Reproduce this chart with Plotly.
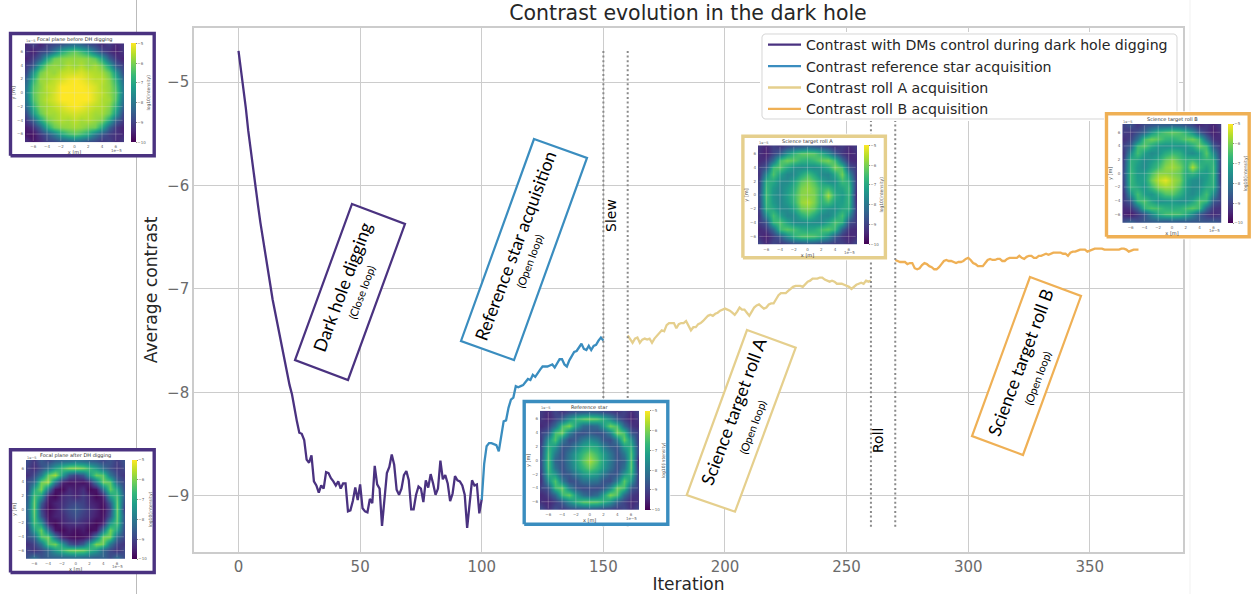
import plotly.graph_objects as go

W, H = 1252, 594

# ---------- series ----------
iter_dig = list(range(0, 101))
contrast_dig = [-4.70,-4.87,-5.05,-5.25,-5.47,-5.66,-5.84,-6.01,-6.19,-6.36,-6.52,-6.68,-6.82,-6.95,-7.10,-7.22,-7.36,-7.48,-7.60,-7.72,
 -7.82,-7.93,-8.02,-8.17,-8.28,-8.39,-8.40,-8.46,-8.65,-8.68,-8.61,-8.86,-8.90,-8.97,-8.90,-8.93,-8.77,-8.78,-8.83,-8.86,
 -8.90,-8.86,-8.93,-8.88,-8.88,-9.15,-9.14,-9.05,-8.92,-9.04,-8.89,-9.12,-9.15,-9.16,-9.03,-9.07,-8.71,-8.89,-8.93,-9.29,
 -9.01,-8.78,-8.72,-8.60,-8.70,-8.94,-8.99,-8.93,-8.80,-8.76,-8.85,-9.13,-9.13,-8.99,-8.91,-8.93,-9.06,-8.85,-8.92,-8.79,
 -8.88,-8.99,-8.93,-8.66,-8.84,-8.80,-8.88,-9.05,-8.98,-8.81,-8.85,-8.86,-8.90,-8.99,-9.31,-9.11,-8.85,-8.90,-8.89,-9.17,-9.03]
iter_ref = list(range(100, 151))
contrast_ref = [-9.04,-8.69,-8.52,-8.49,-8.49,-8.50,-8.51,-8.57,-8.41,-8.28,-8.27,-8.15,-8.07,-8.05,-7.94,-7.95,-7.94,-7.93,-7.90,-7.87,
 -7.88,-7.83,-7.85,-7.81,-7.78,-7.75,-7.75,-7.75,-7.74,-7.73,-7.76,-7.72,-7.68,-7.68,-7.73,-7.75,-7.69,-7.65,-7.61,-7.60,
 -7.57,-7.53,-7.58,-7.59,-7.55,-7.59,-7.55,-7.54,-7.50,-7.47,-7.50]
iter_a = list(range(160, 261))
contrast_a = [-7.45,-7.48,-7.52,-7.48,-7.47,-7.52,-7.49,-7.48,-7.49,-7.48,-7.52,-7.48,-7.45,-7.42,-7.40,-7.41,-7.35,-7.33,-7.33,-7.33,
 -7.38,-7.34,-7.33,-7.33,-7.31,-7.35,-7.40,-7.37,-7.37,-7.34,-7.33,-7.31,-7.28,-7.26,-7.25,-7.26,-7.24,-7.23,-7.21,-7.20,
 -7.19,-7.20,-7.21,-7.23,-7.25,-7.22,-7.18,-7.20,-7.20,-7.23,-7.26,-7.22,-7.18,-7.16,-7.15,-7.17,-7.19,-7.18,-7.15,-7.14,
 -7.14,-7.10,-7.06,-7.04,-7.04,-7.04,-7.02,-7.00,-6.98,-6.97,-6.97,-6.97,-6.98,-6.95,-6.93,-6.92,-6.90,-6.90,-6.90,-6.89,
 -6.89,-6.91,-6.92,-6.93,-6.92,-6.93,-6.95,-6.95,-6.95,-6.96,-6.97,-6.98,-7.00,-6.98,-6.96,-6.95,-6.94,-6.95,-6.92,-6.93,-6.92]
iter_b = list(range(270, 371))
contrast_b = [-6.72,-6.73,-6.74,-6.74,-6.74,-6.76,-6.75,-6.75,-6.80,-6.81,-6.80,-6.77,-6.75,-6.76,-6.78,-6.79,-6.81,-6.81,-6.79,-6.76,
 -6.73,-6.72,-6.73,-6.73,-6.74,-6.75,-6.74,-6.74,-6.73,-6.71,-6.70,-6.72,-6.75,-6.76,-6.78,-6.78,-6.78,-6.75,-6.72,-6.71,
 -6.72,-6.72,-6.71,-6.71,-6.73,-6.73,-6.71,-6.70,-6.70,-6.70,-6.70,-6.68,-6.70,-6.71,-6.69,-6.68,-6.68,-6.70,-6.70,-6.68,
 -6.68,-6.67,-6.66,-6.67,-6.66,-6.65,-6.65,-6.65,-6.65,-6.66,-6.66,-6.68,-6.65,-6.64,-6.64,-6.63,-6.62,-6.62,-6.62,-6.64,
 -6.63,-6.62,-6.61,-6.61,-6.61,-6.61,-6.62,-6.62,-6.62,-6.62,-6.62,-6.62,-6.62,-6.61,-6.61,-6.62,-6.64,-6.63,-6.62,-6.62,-6.62]
series_names = ["Contrast with DMs control during dark hole digging", "Contrast reference star acquisition",
                "Contrast roll A acquisition", "Contrast roll B acquisition"]
C_DIG, C_REF, C_A, C_B = "#4a3280", "#3a8dbf", "#e5cf8d", "#efb055"

sep_iters = [150, 160, 260, 270]
sep_top, sep_bottom = -4.70, -9.30
x_ticks = [0, 50, 100, 150, 200, 250, 300, 350]
y_ticks = [-5, -6, -7, -8, -9]

# ---------- inset image samples, log10(intensity), rows y=+7..-7, columns x=-7..+7 ----------
axis_cells = [-7,-6,-5,-4,-3,-2,-1,0,1,2,3,4,5,6,7]
inset_ticks = [-6,-4,-2,0,2,4,6]
cbar_ticks = [-5,-6,-7,-8,-9,-10]

img_before = [
[-9.4,-9.0,-9.5,-9.1,-8.9,-8.7,-8.4,-8.2,-8.4,-8.8,-9.0,-9.4,-9.1,-9.5,-9.2],
[-9.2,-9.6,-9.0,-8.8,-8.0,-7.0,-6.5,-6.2,-6.6,-7.1,-8.1,-8.9,-9.3,-9.6,-9.2],
[-9.5,-9.1,-8.4,-7.0,-6.1,-5.9,-5.8,-5.8,-5.8,-5.9,-6.2,-7.1,-8.5,-9.2,-9.5],
[-9.1,-8.6,-7.0,-6.0,-5.8,-5.9,-5.6,-5.8,-5.6,-5.9,-5.7,-6.1,-7.1,-8.6,-9.0],
[-8.9,-7.4,-6.1,-5.7,-5.8,-5.5,-5.4,-5.4,-5.3,-5.5,-5.6,-5.7,-6.2,-7.4,-8.8],
[-8.4,-6.8,-5.8,-5.7,-5.5,-5.3,-5.1,-5.0,-5.1,-5.3,-5.5,-5.5,-5.9,-6.8,-8.3],
[-8.1,-6.4,-5.9,-5.5,-5.4,-5.0,-5.0,-5.0,-5.0,-5.1,-5.3,-5.6,-5.8,-6.5,-8.0],
[-7.9,-6.3,-5.8,-5.6,-5.3,-5.0,-5.0,-5.0,-5.0,-5.0,-5.3,-5.5,-5.8,-6.3,-7.9],
[-8.0,-6.4,-5.8,-5.5,-5.3,-5.0,-5.0,-5.0,-5.0,-5.0,-5.3,-5.6,-5.7,-6.4,-8.1],
[-8.3,-6.8,-5.9,-5.7,-5.5,-5.3,-5.1,-5.0,-5.1,-5.3,-5.5,-5.6,-5.9,-6.8,-8.4],
[-8.8,-7.3,-6.2,-5.7,-5.7,-5.5,-5.4,-5.3,-5.4,-5.5,-5.7,-5.7,-6.1,-7.3,-8.9],
[-9.2,-8.5,-7.1,-6.1,-5.8,-5.6,-5.7,-5.5,-5.7,-5.6,-5.8,-6.0,-7.0,-8.5,-9.1],
[-9.6,-9.3,-8.4,-7.0,-6.2,-5.9,-5.8,-5.7,-5.8,-6.0,-6.1,-7.0,-8.4,-9.2,-9.5],
[-9.7,-9.8,-9.2,-8.7,-8.0,-7.1,-6.6,-6.3,-6.6,-7.0,-8.0,-8.7,-9.1,-9.3,-9.4],
[-9.3,-9.7,-9.4,-9.0,-8.9,-8.6,-8.4,-8.2,-8.4,-8.7,-8.9,-9.2,-9.0,-9.4,-9.1]]

img_after = [
[-8.8,-9.2,-8.6,-8.9,-8.5,-8.3,-8.2,-8.0,-8.2,-8.4,-8.6,-8.9,-8.7,-9.1,-8.7],
[-9.0,-9.4,-8.8,-8.2,-7.2,-6.5,-6.0,-5.9,-6.1,-6.6,-7.3,-8.2,-8.8,-9.2,-8.9],
[-9.3,-8.9,-7.9,-6.2,-5.7,-7.2,-8.6,-9.0,-8.6,-7.3,-6.2,-6.3,-8.0,-8.9,-9.2],
[-8.8,-8.3,-6.1,-5.7,-8.0,-9.5,-9.8,-9.7,-9.8,-9.5,-8.0,-6.1,-6.3,-8.4,-8.9],
[-8.9,-7.0,-6.0,-8.0,-9.7,-9.9,-9.4,-9.6,-9.3,-9.9,-9.7,-8.1,-6.2,-7.1,-8.8],
[-8.6,-6.4,-7.3,-9.6,-9.9,-9.4,-9.2,-9.5,-9.1,-9.5,-9.9,-9.6,-7.3,-6.5,-8.5],
[-8.4,-6.2,-8.5,-9.8,-9.5,-9.3,-9.0,-8.9,-9.0,-9.4,-9.6,-9.8,-8.5,-6.3,-8.8],
[-8.3,-6.2,-8.9,-9.9,-9.6,-9.2,-8.8,-8.6,-8.9,-9.2,-9.5,-9.9,-8.9,-6.2,-9.0],
[-8.4,-6.3,-8.6,-9.8,-9.5,-9.4,-9.0,-8.8,-9.1,-9.3,-9.6,-9.8,-8.6,-6.3,-8.6],
[-8.6,-6.5,-7.4,-9.6,-9.9,-9.5,-9.3,-9.2,-9.4,-9.6,-9.9,-9.6,-7.4,-6.4,-8.7],
[-8.9,-7.2,-6.2,-8.1,-9.7,-9.9,-9.6,-9.8,-9.6,-9.9,-9.7,-8.0,-6.1,-7.1,-8.8],
[-8.8,-8.4,-6.4,-6.1,-8.1,-9.5,-9.8,-9.9,-9.8,-9.5,-8.0,-6.0,-6.1,-8.3,-8.9],
[-9.3,-9.0,-8.1,-6.4,-6.1,-7.3,-8.6,-9.0,-8.5,-7.2,-6.0,-6.1,-8.0,-9.0,-9.2],
[-9.0,-9.3,-8.9,-8.3,-7.3,-6.6,-6.1,-6.0,-6.1,-6.6,-7.2,-8.3,-8.9,-9.3,-8.9],
[-8.7,-8.2,-8.7,-8.5,-8.4,-8.3,-8.2,-8.1,-8.2,-8.3,-8.5,-8.4,-8.8,-8.3,-8.8]]

img_ref = [
[-9.1,-9.4,-8.9,-9.2,-8.9,-8.7,-8.6,-8.5,-8.6,-8.8,-9.0,-9.2,-9.0,-9.4,-9.0],
[-9.2,-9.5,-9.0,-8.5,-7.5,-6.7,-6.3,-6.1,-6.3,-6.8,-7.6,-8.6,-9.1,-9.5,-9.2],
[-9.4,-9.1,-8.2,-6.5,-6.0,-7.2,-8.2,-8.4,-8.2,-7.3,-6.1,-6.5,-8.3,-9.2,-9.4],
[-9.0,-8.6,-6.5,-6.1,-7.8,-8.7,-8.8,-8.6,-8.8,-8.7,-7.8,-6.0,-6.5,-8.6,-9.0],
[-9.1,-7.4,-6.4,-7.9,-8.8,-8.6,-7.9,-7.5,-7.9,-8.6,-8.8,-7.9,-6.2,-7.4,-9.1],
[-8.9,-6.8,-7.4,-8.7,-8.5,-7.8,-7.1,-6.8,-7.0,-7.8,-8.5,-8.7,-7.3,-6.8,-8.9],
[-8.8,-6.5,-8.0,-8.8,-8.0,-7.2,-6.6,-6.1,-6.6,-7.2,-8.0,-8.8,-8.0,-6.5,-8.9],
[-8.7,-6.4,-8.4,-8.7,-7.9,-7.1,-6.3,-5.7,-6.3,-7.1,-7.9,-8.7,-8.4,-6.4,-9.4],
[-8.8,-6.5,-8.1,-8.8,-8.1,-7.3,-6.7,-6.2,-6.7,-7.3,-8.1,-8.8,-8.1,-6.4,-9.2],
[-9.0,-6.8,-7.4,-8.7,-8.6,-7.9,-7.3,-7.0,-7.3,-7.9,-8.6,-8.7,-7.4,-6.7,-9.0],
[-9.2,-7.5,-6.4,-7.9,-8.8,-8.7,-8.1,-8.0,-8.1,-8.7,-8.8,-7.9,-6.3,-7.4,-9.1],
[-9.0,-8.7,-6.6,-6.2,-7.8,-8.7,-8.9,-8.8,-8.9,-8.7,-7.7,-6.1,-6.5,-8.6,-9.0],
[-9.4,-9.1,-8.3,-6.6,-6.2,-7.3,-8.2,-8.5,-8.2,-7.2,-6.0,-6.4,-8.2,-9.1,-9.3],
[-9.3,-9.5,-9.1,-8.6,-7.6,-6.8,-6.3,-6.2,-6.3,-6.7,-7.4,-8.5,-9.0,-9.4,-9.2],
[-8.8,-9.3,-8.8,-9.1,-8.8,-8.7,-8.6,-8.5,-8.6,-8.8,-8.9,-9.1,-8.9,-9.3,-8.9]]

img_a = [
[-9.2,-9.5,-9.0,-9.2,-8.9,-8.7,-8.6,-8.4,-8.6,-8.8,-9.0,-9.3,-9.1,-9.4,-9.1],
[-9.3,-9.6,-9.0,-8.5,-7.4,-6.7,-6.3,-6.2,-6.3,-6.8,-7.5,-8.6,-9.2,-9.5,-9.3],
[-9.4,-9.2,-8.2,-6.5,-6.1,-6.3,-6.7,-6.8,-6.6,-6.2,-6.0,-6.6,-8.2,-9.3,-9.4],
[-9.1,-8.7,-6.6,-6.3,-7.0,-7.5,-7.6,-7.5,-7.6,-7.4,-6.9,-6.0,-6.5,-8.7,-9.1],
[-9.2,-7.6,-6.4,-7.2,-7.7,-7.6,-7.0,-6.5,-7.0,-7.6,-7.7,-7.0,-6.1,-7.6,-9.2],
[-9.0,-6.8,-7.0,-7.6,-7.6,-7.1,-6.3,-6.0,-6.4,-7.1,-7.5,-7.5,-6.6,-6.9,-9.1],
[-8.9,-6.6,-7.3,-7.7,-7.3,-6.8,-6.0,-5.8,-6.1,-6.7,-6.5,-7.2,-7.1,-6.6,-9.2],
[-8.8,-6.5,-7.4,-7.7,-7.2,-6.6,-5.9,-5.9,-6.0,-6.8,-5.7,-6.9,-7.3,-6.7,-9.4],
[-8.9,-6.6,-7.3,-7.7,-7.3,-6.7,-5.8,-5.6,-6.0,-6.8,-6.5,-7.2,-7.2,-6.7,-9.3],
[-9.0,-6.8,-7.0,-7.6,-7.6,-7.1,-6.2,-6.0,-6.3,-7.1,-7.5,-7.5,-7.0,-6.9,-9.1],
[-9.2,-7.6,-6.5,-7.2,-7.7,-7.6,-6.9,-6.5,-7.0,-7.6,-7.7,-7.2,-6.5,-7.7,-9.2],
[-9.1,-8.7,-6.7,-6.4,-7.1,-7.6,-7.6,-7.5,-7.6,-7.6,-7.1,-6.4,-6.8,-8.8,-9.1],
[-9.4,-9.2,-8.3,-6.6,-6.3,-6.5,-6.9,-7.0,-6.9,-6.5,-6.3,-6.7,-8.4,-9.3,-9.4],
[-9.3,-9.6,-9.1,-8.6,-7.6,-6.8,-6.4,-6.3,-6.4,-6.8,-7.5,-8.6,-9.2,-9.5,-9.3],
[-8.9,-9.4,-8.9,-9.1,-8.9,-8.7,-8.6,-8.5,-8.6,-8.8,-8.9,-9.1,-9.0,-9.3,-8.9]]

img_b = [
[-9.0,-8.7,-9.2,-8.8,-8.7,-8.5,-8.5,-8.4,-8.5,-8.7,-8.9,-9.4,-9.2,-9.5,-9.1],
[-9.1,-9.2,-8.8,-8.4,-7.4,-6.7,-6.4,-6.2,-6.4,-6.8,-7.5,-8.6,-9.2,-9.6,-9.3],
[-9.3,-9.0,-8.1,-6.5,-6.1,-6.3,-6.7,-6.8,-6.6,-6.3,-6.1,-6.6,-8.2,-9.3,-9.4],
[-9.0,-8.5,-6.6,-6.3,-7.0,-7.4,-7.5,-7.4,-7.5,-7.4,-7.0,-6.2,-6.6,-8.6,-9.2],
[-9.2,-7.6,-6.5,-7.2,-7.6,-7.4,-6.9,-6.6,-6.8,-7.4,-7.6,-7.2,-6.3,-7.6,-9.1],
[-9.0,-6.8,-7.1,-7.6,-7.3,-6.9,-6.2,-5.9,-6.4,-6.8,-6.6,-7.0,-6.7,-6.8,-9.0],
[-8.9,-6.7,-7.3,-7.6,-7.0,-6.5,-5.9,-5.7,-6.0,-6.8,-5.6,-6.7,-7.1,-6.6,-9.1],
[-8.8,-6.6,-7.3,-7.3,-6.5,-5.9,-5.9,-6.0,-6.2,-7.0,-6.7,-7.2,-7.3,-6.6,-9.3],
[-8.9,-6.6,-7.2,-7.2,-6.1,-5.5,-5.2,-5.7,-6.0,-7.1,-7.5,-7.6,-7.2,-6.7,-9.2],
[-9.0,-6.7,-7.0,-7.4,-6.6,-5.9,-5.7,-5.8,-6.3,-7.2,-7.6,-7.5,-7.0,-6.8,-9.0],
[-9.2,-7.5,-6.5,-7.2,-7.4,-6.9,-6.4,-6.3,-6.8,-7.4,-7.6,-7.2,-6.5,-7.6,-9.1],
[-9.1,-8.6,-6.7,-6.4,-7.1,-7.5,-7.4,-7.3,-7.5,-7.5,-7.1,-6.4,-6.7,-8.6,-9.0],
[-9.4,-9.2,-8.3,-6.7,-6.4,-6.5,-6.8,-6.9,-6.8,-6.5,-6.3,-6.6,-8.3,-9.2,-9.3],
[-9.5,-9.7,-9.2,-8.7,-7.7,-6.9,-6.5,-6.4,-6.5,-6.9,-7.6,-8.6,-9.1,-9.4,-9.2],
[-8.8,-8.5,-8.8,-8.6,-8.5,-8.4,-8.5,-8.4,-8.5,-8.5,-8.6,-8.6,-8.7,-8.6,-8.8]]

# (title, border colour, image, frame px [l,t,r,b], image px [l,t,r,b], colour-bar px [l,r])
insets = [
 ("Focal plane before DH digging", C_DIG, img_before, (10.5, 33.5, 154.2, 155.8), (25, 43.3, 124, 142.3), (130.7, 136)),
 ("Focal plane after DH digging", C_DIG, img_after, (10.5, 449.8, 154.2, 572.5), (26, 460, 125.3, 558.7), (132, 137.3)),
 ("Reference star", C_REF, img_ref, (524.2, 401.5, 667.8, 524.2), (540, 410.7, 639.3, 510), (645.3, 650.7)),
 ("Science target roll A", C_A, img_a, (742.9, 136.2, 885.4, 257.8), (758, 145.3, 857, 244.7), (863.6, 869)),
 ("Science target roll B", C_B, img_b, (1106.5, 113.8, 1249.2, 236.8), (1122.3, 124, 1221.7, 222.7), (1227.7, 1233)),
]

def fx(p): return p / W
def fy(p): return 1 - p / H

FONT = "DejaVu Sans"
fig = go.Figure()

# ---------- main series ----------
for xs, ys, name, col in [(iter_dig, contrast_dig, series_names[0], C_DIG), (iter_ref, contrast_ref, series_names[1], C_REF),
                          (iter_a, contrast_a, series_names[2], C_A), (iter_b, contrast_b, series_names[3], C_B)]:
    fig.add_trace(go.Scatter(x=xs, y=ys, name=name, mode="lines", line=dict(color=col, width=2.3)))
for s in sep_iters:
    fig.add_trace(go.Scatter(x=[s, s], y=[sep_top, sep_bottom], mode="lines", showlegend=False,
                             line=dict(color="#8a8a8a", width=2, dash="2px,2.6px")))

layout_axes = dict(
    xaxis=dict(domain=[fx(194), fx(1183)], range=[-18.3, 388.3], tickvals=x_ticks, showgrid=True, gridcolor="#cccccc", gridwidth=1.3,
               zeroline=False, showline=True, mirror=True, linecolor="#cccccc", linewidth=1.6, ticks="",
               tickfont=dict(size=15, color="#6b6b6b", family=FONT), anchor="y",
               title=dict(text="Iteration", font=dict(size=17, color="#262626", family=FONT), standoff=6)),
    yaxis=dict(domain=[fy(551.7), fy(28)], range=[-9.54, -4.478], tickvals=y_ticks, showgrid=True, gridcolor="#cccccc", gridwidth=1.3,
               zeroline=False, showline=True, mirror=True, linecolor="#cccccc", linewidth=1.6, ticks="",
               tickfont=dict(size=15, color="#6b6b6b", family=FONT), anchor="x",
               title=dict(text="Average contrast", font=dict(size=17.2, color="#262626", family=FONT), standoff=5)),
)

# ---------- rounded legend panel, in its own subplot so the insets can sit on top of it ----------
lg_l, lg_t, lg_r, lg_b = 762, 34, 1177, 119
c = 3
panel_x = [lg_l+c, lg_r-c, lg_r-1, lg_r, lg_r, lg_r-1, lg_r-c, lg_l+c, lg_l+1, lg_l, lg_l, lg_l+1, lg_l+c]
panel_y = [lg_t, lg_t, lg_t+1, lg_t+c, lg_b-c, lg_b-1, lg_b, lg_b, lg_b-1, lg_b-c, lg_t+c, lg_t+1, lg_t]
fig.add_trace(go.Scatter(x=panel_x, y=panel_y, mode="lines", fill="toself", fillcolor="rgba(255,255,255,0.8)",
                         line=dict(color="rgba(204,204,204,0.8)", width=1), showlegend=False, xaxis="x2", yaxis="y2", hoverinfo="skip"))
layout_axes["xaxis2"] = dict(domain=[fx(lg_l-2), fx(lg_r+2)], range=[lg_l-2, lg_r+2], visible=False, anchor="y2")
layout_axes["yaxis2"] = dict(domain=[fy(lg_b+2), fy(lg_t-2)], range=[lg_b+2, lg_t-2], visible=False, anchor="x2")

annotations = []
ax_n = 3
pad = 2.5
for title, col, img, fr, im, cb in insets:
    fa, ia = ax_n, ax_n + 1
    ax_n += 2
    fig.add_trace(go.Scatter(x=[0, 1, 1, 0, 0], y=[0, 0, 1, 1, 0], mode="lines", fill="toself", fillcolor="white",
                             line=dict(color=col, width=3.4), showlegend=False, xaxis=f"x{fa}", yaxis=f"y{fa}",
                             hoverinfo="skip"))
    w_f, h_f = fr[2] - fr[0], fr[3] - fr[1]
    l_p, r_p, t_p, b_p = max(fr[0]-pad, 0), min(fr[2]+pad, W), max(fr[1]-pad, 0), min(fr[3]+pad, H)
    layout_axes[f"xaxis{fa}"] = dict(domain=[fx(l_p), fx(r_p)], range=[(l_p-fr[0])/w_f, (r_p-fr[0])/w_f], visible=False, anchor=f"y{fa}")
    layout_axes[f"yaxis{fa}"] = dict(domain=[fy(b_p), fy(t_p)], range=[(fr[3]-b_p)/h_f, (fr[3]-t_p)/h_f], visible=False, anchor=f"x{fa}")
    fig.add_trace(go.Heatmap(z=img, x=axis_cells, y=axis_cells[::-1], zmin=-10, zmax=-5, colorscale="Viridis", zsmooth="best",
                             xaxis=f"x{ia}", yaxis=f"y{ia}", hoverinfo="skip",
                             colorbar=dict(x=fx(cb[0]), xanchor="left", xpad=0, y=fy(im[1]), yanchor="top", ypad=0,
                                           lenmode="fraction", len=(im[3]-im[1])/H, thickness=cb[1]-cb[0], outlinewidth=0,
                                           tickvals=cbar_ticks, ticks="outside", ticklen=1, tickwidth=0.4, tickcolor="#888",
                                           tickfont=dict(size=4, color="#666", family=FONT),
                                           title=dict(text="log10(intensity)", side="right", font=dict(size=4.5, color="#555", family=FONT)))))
    gx, gy = [], []
    for t in inset_ticks:
        gx += [t, t, None, -7, 7, None]
        gy += [-7, 7, None, t, t, None]
    fig.add_trace(go.Scatter(x=gx, y=gy, mode="lines", line=dict(color="rgba(225,225,225,0.45)", width=0.6),
                             showlegend=False, xaxis=f"x{ia}", yaxis=f"y{ia}", hoverinfo="skip"))
    small = dict(size=4, color="#666", family=FONT)
    layout_axes[f"xaxis{ia}"] = dict(domain=[fx(im[0]), fx(im[2])], range=[-7.2, 7.2], tickvals=inset_ticks, tickfont=small, ticks="", anchor=f"y{ia}",
                                     showgrid=False, zeroline=False, ticklabelstandoff=1,
                                     title=dict(text="x [m]", font=dict(size=5, color="#444", family=FONT), standoff=1))
    layout_axes[f"yaxis{ia}"] = dict(domain=[fy(im[3]), fy(im[1])], range=[-7.2, 7.2], tickvals=inset_ticks, tickfont=small, ticks="", anchor=f"x{ia}",
                                     showgrid=False, zeroline=False, ticklabelstandoff=1,
                                     title=dict(text="y [m]", font=dict(size=5, color="#444", family=FONT), standoff=1))
    annotations.append(dict(text=title, x=fx((im[0]+im[2])/2), y=fy(im[1]-4), xref="paper", yref="paper", showarrow=False,
                            font=dict(size=5, color="#333", family=FONT), xanchor="center", yanchor="middle"))
    annotations.append(dict(text="1e−5", x=fx(im[0]-1), y=fy(im[1]-2.5), xref="paper", yref="paper", showarrow=False,
                            font=dict(size=3.5, color="#666", family=FONT), xanchor="left", yanchor="middle"))
    annotations.append(dict(text="1e−5", x=fx(im[2]), y=fy(im[3]+8), xref="paper", yref="paper", showarrow=False,
                            font=small, xanchor="right", yanchor="middle"))

# ---------- rotated call-out boxes ----------
callouts = [
 ("Dark hole digging", "(Close loop)", C_DIG, [(352,204),(405,224),(348,380),(295,360)], (342,287), (361,292)),
 ("Reference star acquisition", "(Open loop)", C_REF, [(534,139),(587,158),(514,360),(461,341)], (515,246), (529,261)),
 ("Science target roll A", "(Open loop)", C_A, [(747,330),(795.7,347.7),(735,511.7),(686.7,495)], (733,412), (752,427)),
 ("Science target roll B", "(Open loop)", C_B, [(1030,277),(1081,296),(1023,455),(972,436)], (1020,363), (1037,378)),
]
shapes = [
    dict(type="line", xref="paper", yref="paper", x0=fx(136.5), x1=fx(136.5), y0=0, y1=1, layer="below", line=dict(color="#bbbbbb", width=1)),
    dict(type="line", xref="paper", yref="paper", x0=fx(1190), x1=fx(1190), y0=0, y1=1, layer="below", line=dict(color="#f1f1f1", width=1)),
]
for head, sub, col, pts, tc, sc in callouts:
    path = "M " + " L ".join(f"{fx(a):.5f} {fy(b):.5f}" for a, b in pts) + " Z"
    shapes.append(dict(type="path", path=path, xref="paper", yref="paper", fillcolor="white", line=dict(color=col, width=2.2), layer="above"))
    annotations.append(dict(text=head, x=fx(tc[0]), y=fy(tc[1]), xref="paper", yref="paper", showarrow=False, textangle=-69.5,
                            font=dict(size=17.8, color="black", family="Lato"), xanchor="center", yanchor="middle"))
    annotations.append(dict(text=sub, x=fx(sc[0]), y=fy(sc[1]), xref="paper", yref="paper", showarrow=False, textangle=-69.5,
                            font=dict(size=11, color="black", family="Lato"), xanchor="center", yanchor="middle"))

for txt, px, py in [("Slew", 611, 216), ("Roll", 878, 440)]:
    annotations.append(dict(text=txt, x=fx(px), y=fy(py), xref="paper", yref="paper", showarrow=False, textangle=-90,
                            font=dict(size=14, color="black", family=FONT), xanchor="center", yanchor="middle"))

fig.update_layout(
    width=W, height=H, autosize=False, margin=dict(l=0, r=0, t=0, b=0, autoexpand=False),
    paper_bgcolor="white", plot_bgcolor="white", font=dict(family=FONT),
    title=dict(text="Contrast evolution in the dark hole", x=688/W, xanchor="center", y=fy(13), yanchor="middle",
               font=dict(size=20.5, color="#262626", family=FONT)),
    legend=dict(x=fx(763), y=fy(29), xanchor="left", yanchor="top", bgcolor="rgba(0,0,0,0)", borderwidth=0,
                font=dict(size=14.15, color="#262626", family=FONT), tracegroupgap=0, itemwidth=33),
    shapes=shapes, annotations=annotations, **layout_axes,
)

fig.write_html("out.html", config=dict(displayModeBar=False),
               post_script="document.body.style.margin='0';document.body.style.overflow='hidden';")
